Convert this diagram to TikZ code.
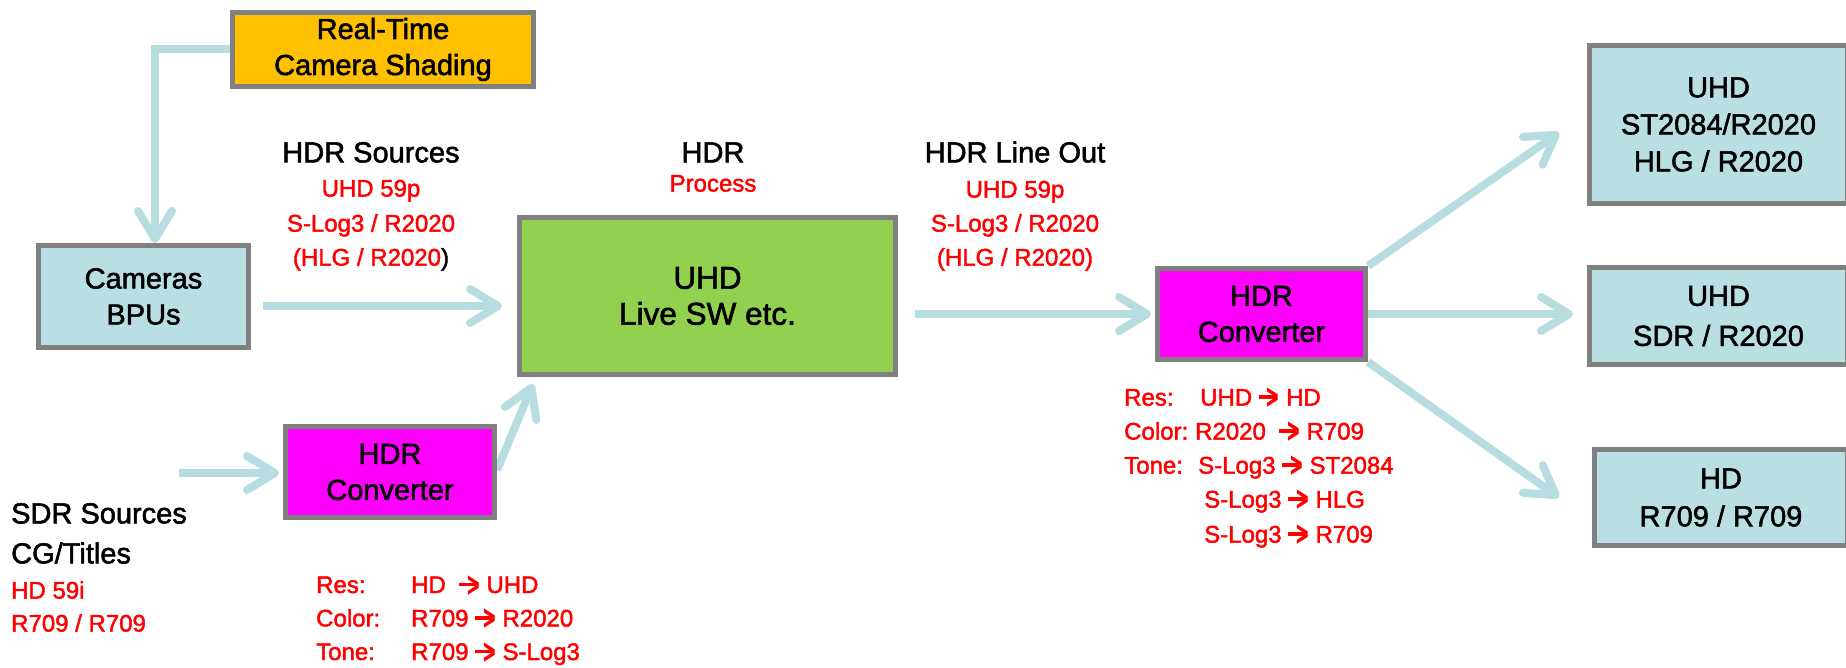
\documentclass[tikz,border=0pt]{standalone}
\usepackage{fontspec}
\setmainfont{Liberation Sans}[FakeBold=1.8]
\newfontfamily\boldish{Liberation Sans Bold}
\usetikzlibrary{arrows.meta}
\definecolor{boxblue}{HTML}{B9DFE2}
\definecolor{arrblue}{HTML}{B7DDE0}
\definecolor{boxgreen}{HTML}{92D050}
\definecolor{boxmag}{HTML}{FF00FF}
\definecolor{boxorange}{HTML}{FFC000}
\definecolor{bordergray}{HTML}{808080}
\definecolor{txtred}{HTML}{FF0000}
\pgfdeclarelayer{bg}
\pgfsetlayers{bg,main}
\newcommand{\myra}{\smash{\rule[7pt]{17pt}{3.2pt}\kern-9pt\raisebox{-4pt}{\scalebox{0.9}[1.5]{\boldish >}}}}
\begin{document}
\begin{tikzpicture}[x=1pt,y=-1pt,
  blk/.style={draw=bordergray, line width=5pt, inner sep=0pt, align=center,
    font=\fontsize{29}{36}\selectfont, text=black},
  conn/.style={draw=arrblue, line width=8pt,
    -{Straight Barb[length=28pt,width=34pt,line cap=round,line join=round]}},
  blab/.style={inner sep=0pt, font=\fontsize{29}{36}\selectfont, text=black},
  rlab/.style={inner sep=0pt, font=\fontsize{24}{30}\selectfont, text=txtred}
]
\useasboundingbox (0,0) rectangle (1846,668);

% boxes
\node[blk, fill=boxorange, minimum width=301pt, minimum height=74pt] (rt) at (383,49.5) {Real-Time\\Camera Shading};
\node[blk, fill=boxblue, minimum width=210pt, minimum height=102pt] (cam) at (143.5,296.5) {Cameras\\BPUs};
\node[blk, fill=boxgreen, minimum width=376pt, minimum height=157pt, font=\fontsize{31.5}{36}\selectfont] (sw) at (707.5,296) {UHD\\Live SW etc.};
\node[blk, fill=boxmag, minimum width=209pt, minimum height=91pt] (lconv) at (390,472) {HDR\\Converter};
\node[blk, fill=boxmag, minimum width=208pt, minimum height=91pt] (rconv) at (1261.5,314) {HDR\\Converter};
\node[blk, fill=boxblue, minimum width=258pt, minimum height=158pt, font=\fontsize{29}{37}\selectfont] (out1) at (1718.5,124.5) {UHD\\ST2084/R2020\\HLG / R2020};
\node[blk, fill=boxblue, minimum width=258pt, minimum height=97pt, font=\fontsize{29}{40}\selectfont] (out2) at (1718.5,316) {UHD\\SDR / R2020};
\node[blk, fill=boxblue, minimum width=253pt, minimum height=96pt, font=\fontsize{29}{38}\selectfont] (out3) at (1721,497.5) {HD\\R709 / R709};

% labels
\node[blab, anchor=base] (hs) at (371,162.4) {HDR Sources};
\node[rlab, anchor=base] (hs1) at (371,196.6) {UHD 59p};
\node[rlab, anchor=base] (hs2) at (371,231.6) {S-Log3 / R2020};
\node[rlab, anchor=base] (hs3) at (371,265.6) {(HLG / R2020\textcolor{black}{)}};

\node[blab, anchor=base] (hp) at (713,162.4) {HDR};
\node[rlab, anchor=base] (hp1) at (713,191.6) {Process};

\node[blab, anchor=base] (lo) at (1015,162.4) {HDR Line Out};
\node[rlab, anchor=base] (lo1) at (1015,197.6) {UHD 59p};
\node[rlab, anchor=base] (lo2) at (1015,231.6) {S-Log3 / R2020};
\node[rlab, anchor=base] (lo3) at (1015,265.6) {(HLG / R2020)};

\node[blab, anchor=base west] (sdr) at (11,523.4) {SDR Sources};
\node[blab, anchor=base west] (cg) at (11,563.4) {CG/Titles};
\node[rlab, anchor=base west] (sdr1) at (11,598.6) {HD 59i};
\node[rlab, anchor=base west] (sdr2) at (11,631.6) {R709 / R709};

\node[rlab, anchor=base west] (lt1) at (316,593) {\makebox[95pt][l]{Res:}HD\ \ \myra\ UHD};
\node[rlab, anchor=base west] (lt2) at (316,626.5) {\makebox[95pt][l]{Color:}R709 \myra\ R2020};
\node[rlab, anchor=base west] (lt3) at (316,660) {\makebox[95pt][l]{Tone:}R709 \myra\ S-Log3};

\node[rlab, anchor=base west] (rt1) at (1124,405.6) {\makebox[76pt][l]{Res:}UHD \myra\ HD};
\node[rlab, anchor=base west] (rt2) at (1124,439.6) {\makebox[71pt][l]{Color:}R2020\ \ \myra\ R709};
\node[rlab, anchor=base west] (rt3) at (1124,473.6) {\makebox[74pt][l]{Tone:}S-Log3 \myra\ ST2084};
\node[rlab, anchor=base west] (rt4) at (1204,507.6) {S-Log3 \myra\ HLG};
\node[rlab, anchor=base west] (rt5) at (1204,542.6) {S-Log3 \myra\ R709};

\coordinate (sdrin) at (179,473);

\begin{pgfonlayer}{bg}
\fill[white] (0,0) rectangle (1846,668);
\draw[conn] (rt.west) -| ([xshift=11.5pt]cam.north);
\draw[conn, shorten <=12pt, shorten >=15pt] ([yshift=-9.5pt]cam.east) -- ([yshift=-9.5pt]cam.east -| sw.west);
\draw[conn, shorten >=4pt] (sdrin) -- (sdrin -| lconv.west);
\draw[conn] ([yshift=2pt]lconv.east) -- ([xshift=16pt,yshift=-7pt]sw.south west);
\draw[conn, shorten <=17pt, shorten >=4pt] (sw.east |- rconv.west) -- (rconv.west);
\draw[conn] (rconv.north east) -- ([xshift=-28pt,yshift=-8pt]out1.west);
\draw[conn, shorten >=14pt] (rconv.east) -- (rconv.east -| out2.west);
\draw[conn] (rconv.south east) -- ([xshift=-33pt]out3.west);
\end{pgfonlayer}
\end{tikzpicture}
\end{document}
